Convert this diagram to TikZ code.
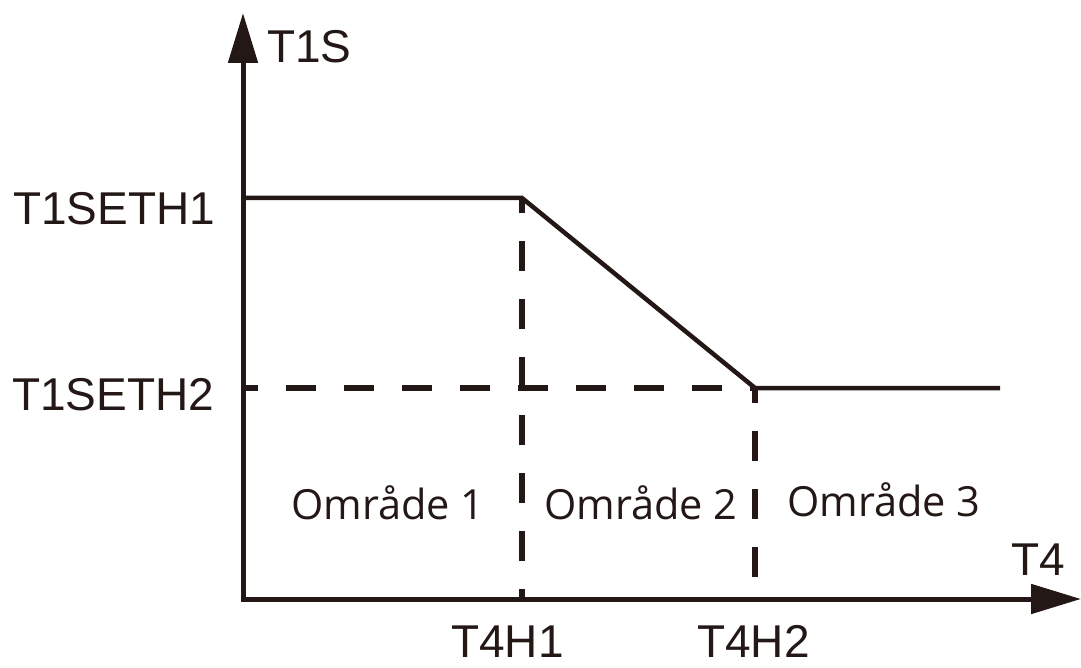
\documentclass[tikz,border=0pt]{standalone}
\usepackage{fontspec}
\setmainfont{Liberation Sans}
\newfontfamily\zonefont{Open Sans}
\usetikzlibrary{arrows.meta}
\definecolor{ink}{RGB}{35,24,21}
\begin{document}
\begin{tikzpicture}[x=1pt,y=-1pt,
  axisline/.style={draw=ink, line width=5pt, -{Triangle[length=50pt,width=29pt]}},
  curveline/.style={draw=ink, line width=4.5pt, line join=miter},
  dashline/.style={draw=ink, line width=5.5pt, dash pattern=on 30pt off 28pt, dash phase=15pt},
  lbl/.style={inner sep=0pt, anchor=base west, text=ink, font=\fontsize{46}{54}\selectfont},
  zone/.style={inner sep=0pt, anchor=base west, text=ink, font=\zonefont\fontsize{41.5}{48}\selectfont}]
\useasboundingbox (0,0) rectangle (1081,668);
% key points
\coordinate (O) at (243,599);
\coordinate (Ob) at (243,601.5);
\coordinate (Ol) at (240.5,599);
\coordinate (Ytip) at (243,13);
\coordinate (Xtip) at (1081,599);
\coordinate (H1L) at (243,198);
\coordinate (P1) at (522,198);
\coordinate (P2) at (755,388);
\coordinate (H2L) at (243,388);
\coordinate (H2R) at (1000,388);
\coordinate (B1) at (522,599);
\coordinate (B2) at (755,599);
% dashed guides
\draw[dashline] (P1) -- (B1);
\draw[dashline] (P2) -- (B2);
\draw[dashline] (H2L) -- (P2);
% curve
\draw[curveline] (H1L) -- (P1) -- (P2) -- (H2R);
% axes
\draw[axisline] (Ob) -- (Ytip);
\draw[axisline] (Ol) -- (Xtip);
% labels
\node[lbl] (t1s) at (267,63) {T1S};
\node[lbl] (t4) at (1011,575) {T4};
\node[lbl] (seth1) at (13,225) {T1SETH1};
\node[lbl] (seth2) at (12,410) {T1SETH2};
\node[lbl] (t4h1) at (451,657) {T4H1};
\node[lbl] (t4h2) at (697,657) {T4H2};
\node[zone] (z1) at (291,519) {Område 1};
\node[zone] (z2) at (544,519) {Område 2};
\node[zone] (z3) at (787,516) {Område 3};
\end{tikzpicture}
\end{document}
